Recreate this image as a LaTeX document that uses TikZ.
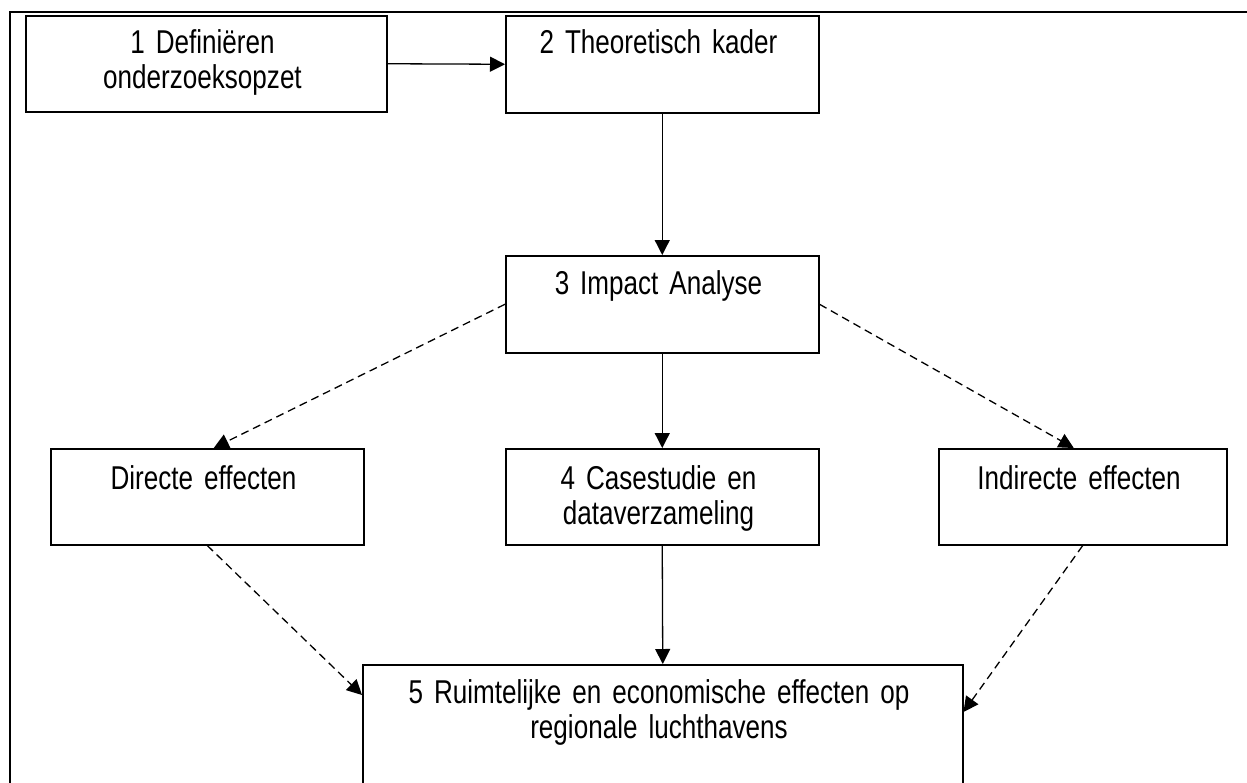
\documentclass[tikz,border=0pt]{standalone}
\usepackage{fontspec}
\setmainfont[FakeStretch=0.79]{Liberation Sans}
\usetikzlibrary{arrows.meta,calc}
\begin{document}
\begin{tikzpicture}[x=1pt,y=-1pt,
  box/.style={draw,line width=1.5pt,rectangle,inner sep=0pt,anchor=north west},
  lbl/.style={inner sep=0pt,anchor=base,align=center,text width=560pt,
    font=\fontsize{33}{35}\selectfont},
  conn/.style={line width=1.3pt,-{Triangle[length=15pt,width=15pt]}},
  dconn/.style={conn,dash pattern=on 8pt off 5pt}]
\spaceskip=7.5pt plus 1pt minus 1pt\relax
\useasboundingbox (0,0) rectangle (1247,782);
\clip (0,0) rectangle (1247,782);
\fill[white] (0,0) rectangle (1247,782);
\draw[line width=2pt] (10,800) -- (10,12) -- (1260,12);
% boxes
\node[box,minimum width=361pt,minimum height=96pt] (b1) at (25,15) {};
\node[box,minimum width=313pt,minimum height=97pt] (b2) at (505,15) {};
\node[box,minimum width=313pt,minimum height=97pt] (b3) at (505,255) {};
\node[box,minimum width=313pt,minimum height=96pt] (bd) at (50,448) {};
\node[box,minimum width=313pt,minimum height=96pt] (b4) at (505,448) {};
\node[box,minimum width=288pt,minimum height=96pt] (bi) at (938,448) {};
\node[box,minimum width=600pt,minimum height=140pt] (b5) at (362,664) {};
% labels
\node[lbl] (t1) at ($(b1.north)+(0,38)$) {1 Definiëren\\onderzoeksopzet};
\node[lbl] (t2) at ($(b2.north)+(0,38)$) {2 Theoretisch kader};
\node[lbl] (t3) at ($(b3.north)+(0,39)$) {3 Impact Analyse};
\node[lbl] (td) at ($(bd.north)+(0,41)$) {Directe effecten};
\node[lbl] (t4) at ($(b4.north)+(0,41)$) {4 Casestudie en\\dataverzameling};
\node[lbl] (ti) at ($(bi.north)+(0,41)$) {Indirecte effecten};
\node[lbl] (t5) at ($(b5.north)+(0,39)$) {5 Ruimtelijke en economische effecten op\\regionale luchthavens};
% connectors
\coordinate (cd) at ($(bd.north)+(6.5,0)$);
\coordinate (ci) at ($(bi.north)+(-9,0)$);
\coordinate (c5l) at (b5.west |- 0,695);
\coordinate (c5r) at (b5.east |- 0,712);
\draw[conn] (b1.east) -- (b2.west);
\draw[conn] (b2.south) -- (b3.north);
\draw[conn] (b3.south) -- (b4.north);
\draw[conn] (b4.south) -- (b5.north);
\draw[dconn] (b3.west) -- (cd);
\draw[dconn] (b3.east) -- (ci);
\draw[dconn] (bd.south) -- (c5l);
\draw[dconn] (bi.south) -- (c5r);
\end{tikzpicture}
\end{document}
